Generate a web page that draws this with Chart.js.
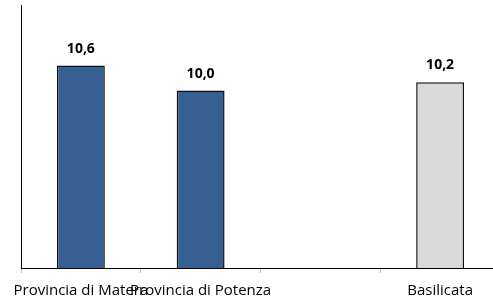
<!DOCTYPE html>
<html><head><meta charset="utf-8">
<script src="https://cdn.jsdelivr.net/npm/chart.js@4/dist/chart.umd.min.js"></script>
<style>html,body{margin:0;padding:0;background:#fff;overflow:hidden}#wrap{width:493px;height:305px;overflow:hidden}</style>
</head><body><div id="wrap"><canvas id="c" width="500" height="305"></canvas></div>
<script>
const categories = ["Provincia di Matera", "Provincia di Potenza", "", "Basilicata"];
const values = [10.6, 10.0, null, 10.2];
const valueLabels = ["10,6", "10,0", "", "10,2"];
const barColors = ["#376092", "#376092", "#376092", "#D9D9D9"];
const yMin = 5.75, yMax = 12.05;

const labelPlugin = {
  id: 'vlabels',
  afterDatasetsDraw(chart) {
    const ctx = chart.ctx;
    const meta = chart.getDatasetMeta(0);
    ctx.save();
    ctx.font = 'bold 14px "Open Sans", sans-serif';
    ctx.fillStyle = '#000';
    ctx.textAlign = 'center';
    ctx.textBaseline = 'middle';
    meta.data.forEach((el, i) => {
      if (values[i] == null) return;
      ctx.fillText(valueLabels[i], el.x, el.y - 17);
    });
    ctx.restore();
  }
};

new Chart(document.getElementById('c'), {
  type: 'bar',
  data: {
    labels: categories,
    datasets: [{
      data: values,
      backgroundColor: barColors,
      borderColor: '#111',
      borderWidth: 1.5,
      barPercentage: 0.4,
      categoryPercentage: 1.0
    }]
  },
  options: {
    responsive: false,
    animation: false,
    layout: { padding: { left: 21, top: 5, right: 0, bottom: 0 } },
    plugins: { legend: { display: false }, tooltip: { enabled: false } },
    scales: {
      x: {
        offset: true,
        grid: { display: true, drawOnChartArea: false, drawTicks: true, tickLength: 5, color: '#c0c0c0', offset: true },
        border: { display: true, color: '#000', width: 1 },
        ticks: { autoSkip: false, maxRotation: 0, minRotation: 0, padding: 9, color: '#000', font: { family: '"Open Sans", sans-serif', size: 15 } },
        afterFit(s) { s.height = 37; }
      },
      y: {
        min: yMin, max: yMax,
        grid: { display: false, drawTicks: false },
        border: { display: true, color: '#000', width: 1 },
        ticks: { display: false },
        afterFit(s) { s.width = 0; }
      }
    }
  },
  plugins: [labelPlugin]
});
</script></body></html>
